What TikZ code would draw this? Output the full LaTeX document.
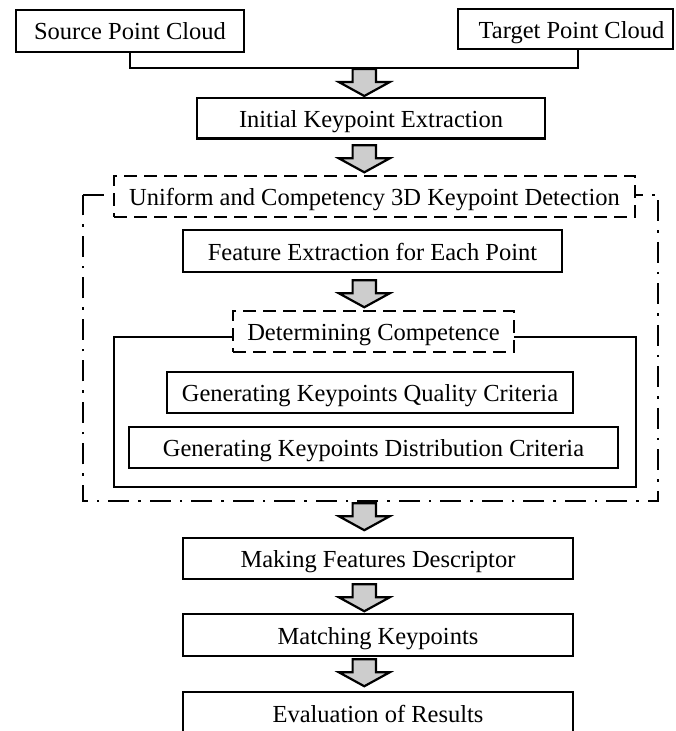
\documentclass[tikz,border=0pt]{standalone}
\usepackage{fontspec}
\setmainfont{Liberation Serif}
\usetikzlibrary{calc}
\definecolor{arrowgray}{RGB}{205,205,205}
\newcommand\blockarr[2]{%
  \draw[barrowsty] ($(364.3,0 |- #1)+(-11.7,#2)$) -- ++(23.4,0) -- ++(0,13) -- ++(13.8,0)
    -- ++(-25.5,14) -- ++(-25.5,-14) -- ++(13.8,0) -- cycle;}
\begin{document}
\begin{tikzpicture}[x=1pt,y=-1pt,
  box/.style={draw, line width=2.5pt, inner sep=0pt, fill=white,
    font=\fontsize{24.5}{29}\selectfont, text height=22pt, text depth=4pt},
  dbox/.style={box, dash pattern=on 13pt off 7pt},
  framearea/.style={inner sep=0pt},
  framestyle/.style={line width=2.5pt, line join=miter,
    dash pattern=on 21pt off 9pt on 2.5pt off 9pt},
  outerbox/.style={draw, line width=2.5pt, inner sep=0pt},
  conn/.style={line width=2.5pt},
  barrowsty/.style={draw, line width=2.2pt, fill=arrowgray, line join=miter}]
\useasboundingbox (0,0) rectangle (675,731);
\clip (0,0) rectangle (675,731);

% top inputs
\node[box, minimum width=228pt, minimum height=41.7pt] (source) at (130,30.9) {Source Point Cloud};
\node[box, minimum width=215pt, minimum height=40pt] (target) at (565.5,29) {\hspace*{12pt}Target Point Cloud};
\coordinate (join) at (364.3,68);
\coordinate (tdrop) at (578,0 |- target.south);
\draw[conn] (source.south) |- (join) -| (tdrop);

\node[box, minimum width=348pt, minimum height=40.5pt] (initial) at (371,118.3) {Initial Keypoint Extraction};

% detection frame
\node[framearea, minimum width=575pt, minimum height=306pt] (frame) at (370.5,348) {};
\draw[framestyle] (frame.north west) -- (frame.north east) -- (frame.south east)
  -- (frame.south west) -- cycle;
\node[outerbox, minimum width=522pt, minimum height=150pt] (outer) at (375,412) {};
\node[dbox, minimum width=521pt, minimum height=41pt] (title) at (374.5,196.5) {Uniform and Competency 3D Keypoint Detection};
\node[box, minimum width=379pt, minimum height=42pt] (feature) at (372.5,251) {Feature Extraction for Each Point};
\node[dbox, minimum width=281pt, minimum height=41pt] (det) at (373.5,331.5) {Determining Competence};
\node[box, minimum width=406pt, minimum height=41pt] (quality) at (370,392.5) {Generating Keypoints Quality Criteria};
\node[box, minimum width=489pt, minimum height=41pt] (distrib) at (373.5,447.5) {Generating Keypoints Distribution Criteria};

% lower chain
\node[box, minimum width=390pt, minimum height=41pt] (making) at (378,558.5) {Making Features Descriptor};
\node[box, minimum width=390pt, minimum height=42pt] (matching) at (378,635) {Matching Keypoints};
\node[box, minimum width=390pt, minimum height=42pt] (eval) at (378,713) {Evaluation of Results};

% block arrows
\blockarr{join}{1}
\blockarr{initial.south}{5.5}
\blockarr{feature.south}{7}
\blockarr{frame.south}{2}
\blockarr{making.south}{4}
\blockarr{matching.south}{2}
\end{tikzpicture}
\end{document}
